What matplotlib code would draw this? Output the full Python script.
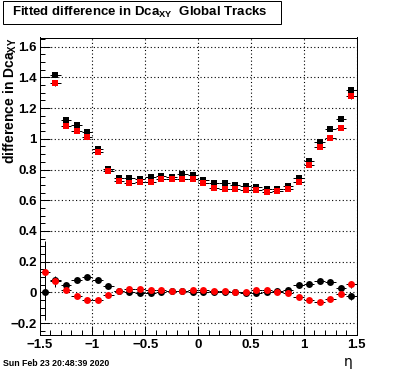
import numpy as np
import matplotlib
matplotlib.use("Agg")
import matplotlib.pyplot as plt
from matplotlib.ticker import MultipleLocator, FuncFormatter
from matplotlib.patches import Rectangle

# ---- data ----
eta_all = [-1.45, -1.35, -1.25, -1.15, -1.05, -0.95, -0.85, -0.75, -0.65, -0.55,
           -0.45, -0.35, -0.25, -0.15, -0.05, 0.05, 0.15, 0.25, 0.35, 0.45,
           0.55, 0.65, 0.75, 0.85, 0.95, 1.05, 1.15, 1.25, 1.35, 1.45]
eta_upper = eta_all[1:]

upper_black = [1.417, 1.125, 1.088, 1.045, 0.933, 0.806, 0.744, 0.744, 0.740, 0.751,
               0.759, 0.753, 0.768, 0.762, 0.731, 0.712, 0.712, 0.701, 0.695, 0.688,
               0.675, 0.675, 0.695, 0.744, 0.854, 0.978, 1.061, 1.126, 1.315]
upper_red = [1.361, 1.086, 1.054, 1.009, 0.912, 0.791, 0.725, 0.710, 0.718, 0.718,
             0.738, 0.738, 0.738, 0.738, 0.712, 0.680, 0.675, 0.675, 0.667, 0.667,
             0.654, 0.660, 0.675, 0.720, 0.828, 0.944, 1.008, 1.068, 1.280]
upper_black_err = [0.015, 0.008, 0.006, 0.006, 0.006, 0.005, 0.005, 0.005, 0.005, 0.005,
                   0.005, 0.005, 0.005, 0.005, 0.005, 0.005, 0.005, 0.005, 0.005, 0.005,
                   0.005, 0.005, 0.005, 0.005, 0.006, 0.006, 0.006, 0.008, 0.015]
upper_red_err = [0.018, 0.008, 0.006, 0.006, 0.006, 0.005, 0.005, 0.005, 0.005, 0.005,
                 0.005, 0.005, 0.005, 0.005, 0.005, 0.005, 0.005, 0.005, 0.005, 0.005,
                 0.005, 0.005, 0.005, 0.005, 0.006, 0.006, 0.006, 0.008, 0.02]

lower_black = [0.0, 0.078, 0.050, 0.082, 0.100, 0.082, 0.043, 0.009, 0.0, -0.004,
               -0.004, 0.004, 0.006, 0.006, 0.004, 0.002, 0.002, 0.002, 0.002, -0.006,
               -0.006, 0.002, 0.006, 0.017, 0.045, 0.056, 0.074, 0.068, 0.028, -0.027]
lower_red = [0.132, 0.071, 0.013, -0.022, -0.050, -0.050, -0.017, 0.009, 0.019, 0.019,
             0.013, 0.013, 0.009, 0.009, 0.013, 0.015, 0.009, 0.009, 0.002, 0.002,
             0.013, 0.017, 0.004, -0.006, -0.030, -0.052, -0.060, -0.044, -0.012, 0.052]
lower_black_err = [0.18, 0.02, 0.008, 0.008, 0.008, 0.008, 0.008, 0.006, 0.006, 0.006,
                   0.006, 0.006, 0.006, 0.006, 0.006, 0.006, 0.006, 0.006, 0.006, 0.006,
                   0.006, 0.006, 0.006, 0.006, 0.008, 0.008, 0.008, 0.008, 0.012, 0.02]
lower_red_err = [0.2, 0.035, 0.008, 0.008, 0.008, 0.008, 0.008, 0.006, 0.006, 0.006,
                 0.006, 0.006, 0.006, 0.006, 0.006, 0.006, 0.006, 0.006, 0.006, 0.006,
                 0.006, 0.006, 0.006, 0.006, 0.008, 0.008, 0.008, 0.008, 0.012, 0.025]

title = "Fitted difference in Dca$_{\\mathbf{XY}}$  Global Tracks"
ylabel = "difference in Dca$_{\\mathbf{XY}}$"
xlabel = "η"
datestamp = "Sun Feb 23 20:48:39 2020"
bin_half = 0.05

# ---- figure ----
plt.rcParams['font.family'] = ['Liberation Sans', 'DejaVu Sans']
plt.rcParams['mathtext.fontset'] = 'custom'
plt.rcParams['mathtext.rm'] = 'Liberation Sans:bold'
plt.rcParams['mathtext.bf'] = 'Liberation Sans:bold'

W, H = 396, 372
fig = plt.figure(figsize=(W / 100, H / 100), dpi=100)
L, R, T, B = 39.5, 356.7, 37.5, 335
ax = fig.add_axes([L / W, 1 - B / H, (R - L) / W, (B - T) / H])

px = 0.72  # one pixel in points

def draw(x, y, e, marker, color, ms):
    ax.errorbar(x, y, yerr=e, xerr=bin_half, fmt='none', ecolor='black',
                elinewidth=px, capsize=0, zorder=3)
    ax.plot(x, y, linestyle='none', marker=marker, color=color, ms=ms,
            markeredgewidth=0, zorder=4)

draw(eta_upper, upper_black, upper_black_err, 's', 'black', 4.4)
draw(eta_upper, upper_red, upper_red_err, 's', 'red', 4.4)
draw(eta_all, lower_black, lower_black_err, 'o', 'black', 5.0)
draw(eta_all, lower_red, lower_red_err, 'o', 'red', 5.0)

ax.set_xlim(-1.5, 1.5)
ax.set_ylim(-0.278, 1.66)
ax.xaxis.set_major_locator(MultipleLocator(0.5))
ax.xaxis.set_minor_locator(MultipleLocator(0.1))
ax.yaxis.set_major_locator(MultipleLocator(0.2))
ax.yaxis.set_minor_locator(MultipleLocator(0.05))

def fmt(v, pos):
    s = f"{v:.1f}"
    if abs(v - round(v)) < 1e-9:
        s = f"{int(round(v))}"
    return s.replace('-', '\u2212')
ax.xaxis.set_major_formatter(FuncFormatter(fmt))
ax.yaxis.set_major_formatter(FuncFormatter(fmt))

ax.tick_params(which='both', direction='in', top=False, right=False, width=px,
               labelsize=9.5, colors='black')
ax.tick_params(axis='x', which='major', length=6.5, pad=3)
ax.tick_params(axis='x', which='minor', length=3.3)
ax.tick_params(axis='y', which='major', length=7.0, pad=2)
ax.tick_params(axis='y', which='minor', length=3.6)
for lab in ax.get_xticklabels() + ax.get_yticklabels():
    lab.set_fontweight('bold')

ax.grid(True, which='major', color='black', linewidth=0.8, linestyle=(0, (1, 2.2)))
ax.set_axisbelow(True)
for s in ax.spines.values():
    s.set_linewidth(px)

# y label: rotated, right-aligned at top of axis
fig.text(10.5 / W, 1 - T / H, ylabel, rotation=90, fontsize=10, fontweight='bold',
         ha='center', va='top')

# x label near right end
fig.text(348 / W, 1 - 362 / H, xlabel, fontsize=10, ha='center', va='center',
         family=['DejaVu Sans'])

# date stamp
fig.text(3 / W, 1 - 364 / H, datestamp, fontsize=6.3, fontweight='bold',
         ha='left', va='center')

# title box
fig.patches.append(Rectangle((3 / W, 1 - 24 / H), (281 - 3) / W, (24 - 1) / H,
                             transform=fig.transFigure, fill=True, facecolor='white',
                             edgecolor='black', linewidth=px))
fig.text(140 / W, 1 - 12.5 / H, title, fontsize=9.5, fontweight='bold',
         ha='center', va='center')

fig.savefig("out.png", dpi=100)
